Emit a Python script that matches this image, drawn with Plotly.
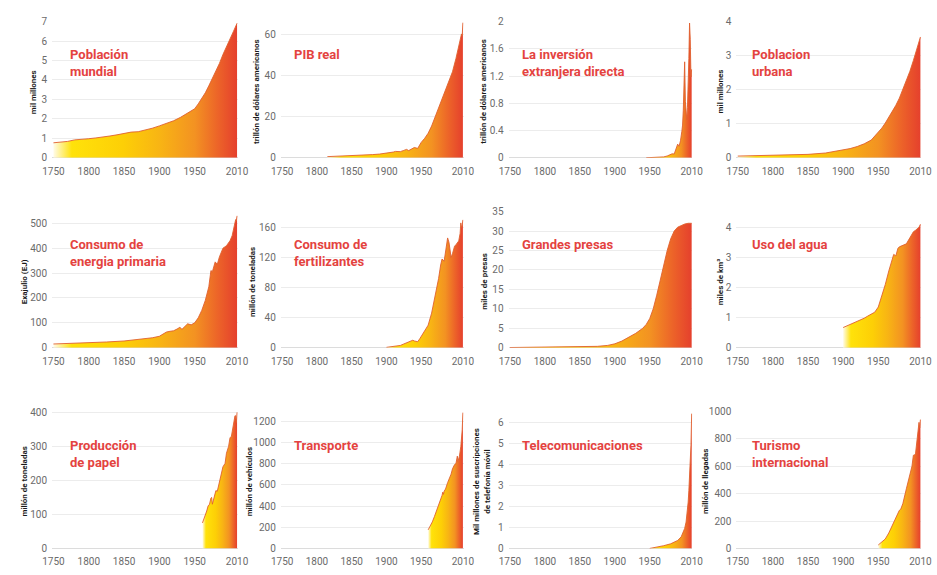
import plotly.graph_objects as go

W, H = 937, 575

# ---------------- data ----------------
x_tick_years = [1750, 1800, 1850, 1900, 1950, 2010]

pop_years = [1750, 1760, 1770, 1780, 1790, 1800, 1810, 1820, 1830, 1840, 1850, 1860, 1870,
             1880, 1890, 1900, 1910, 1920, 1930, 1940, 1950, 1955, 1960, 1965, 1970, 1975,
             1980, 1985, 1990, 1995, 2000, 2005, 2010]
pop_vals = [0.77, 0.80, 0.84, 0.92, 0.94, 0.98, 1.02, 1.06, 1.12, 1.18, 1.26, 1.32, 1.34,
            1.42, 1.52, 1.64, 1.76, 1.90, 2.08, 2.30, 2.52, 2.77, 3.03, 3.34, 3.70, 4.07,
            4.45, 4.85, 5.31, 5.74, 6.13, 6.51, 6.92]

gdp_years = [1815, 1820, 1830, 1840, 1850, 1860, 1870, 1880, 1890, 1900, 1910, 1913, 1920,
             1925, 1929, 1932, 1935, 1940, 1945, 1950, 1955, 1960, 1965, 1970, 1975, 1980,
             1985, 1990, 1995, 2000, 2005, 2008, 2009, 2010]
gdp_vals = [0.55, 0.6, 0.7, 0.8, 0.95, 1.1, 1.3, 1.55, 1.8, 2.2, 2.8, 3.1, 3.0,
            3.6, 4.1, 3.5, 4.2, 5.0, 4.6, 7.5, 9.5, 12, 15.5, 20, 24, 28.5,
            32.5, 37.5, 42, 48.5, 55.5, 60.5, 59.5, 66]

fdi_years = [1945, 1950, 1955, 1960, 1965, 1970, 1975, 1980, 1982, 1985, 1988, 1990, 1992,
             1994, 1996, 1997, 1998, 1999, 2000, 2001, 2002, 2003, 2004, 2005, 2006, 2007,
             2008, 2009, 2010]
fdi_vals = [0, 0.002, 0.004, 0.006, 0.01, 0.013, 0.026, 0.05, 0.058, 0.055, 0.16, 0.2, 0.17,
            0.25, 0.39, 0.48, 0.69, 1.08, 1.41, 0.83, 0.62, 0.56, 0.74, 0.99, 1.46, 1.98,
            1.74, 1.19, 1.3]

urb_years = [1750, 1775, 1800, 1825, 1850, 1875, 1900, 1910, 1920, 1930, 1940, 1950, 1955,
             1960, 1965, 1970, 1975, 1980, 1985, 1990, 1995, 2000, 2005, 2010]
urb_vals = [0.05, 0.06, 0.07, 0.08, 0.1, 0.14, 0.22, 0.27, 0.33, 0.41, 0.52, 0.74, 0.87,
            1.02, 1.18, 1.35, 1.54, 1.75, 2.0, 2.26, 2.54, 2.86, 3.18, 3.55]

ene_years = [1750, 1775, 1800, 1825, 1850, 1870, 1890, 1900, 1905, 1910, 1915, 1920, 1925,
             1929, 1932, 1937, 1940, 1945, 1950, 1955, 1960, 1965, 1970, 1973, 1975, 1979,
             1982, 1985, 1990, 1995, 2000, 2003, 2005, 2008, 2009, 2010]
ene_vals = [15, 17, 20, 23, 27, 33, 40, 46, 55, 63, 66, 68, 75,
            82, 74, 90, 96, 92, 100, 120, 150, 190, 245, 310, 305, 345,
            335, 365, 400, 410, 430, 450, 480, 515, 510, 530]

fer_years = [1900, 1905, 1910, 1915, 1920, 1925, 1930, 1935, 1938, 1940, 1945, 1948, 1950,
             1955, 1960, 1965, 1970, 1973, 1975, 1978, 1980, 1983, 1985, 1988, 1990, 1991,
             1993, 1995, 1998, 2000, 2002, 2004, 2006, 2007, 2008, 2009, 2010]
fer_vals = [0.5, 1, 2, 2, 3, 5, 7, 8, 10, 9, 8, 12, 15,
            21, 30, 46, 68, 85, 92, 110, 118, 115, 128, 146, 140, 130,
            120, 125, 135, 137, 140, 142, 152, 166, 160, 163, 170]

dam_years = [1750, 1800, 1850, 1875, 1890, 1900, 1910, 1920, 1930, 1940, 1945, 1950, 1955,
             1960, 1965, 1970, 1975, 1980, 1985, 1990, 1995, 2000, 2005, 2010]
dam_vals = [0.05, 0.1, 0.2, 0.35, 0.6, 1.0, 1.7, 2.6, 3.7, 5.0, 6.0, 7.5, 10,
            13.5, 17.5, 21.5, 25, 28, 30, 31, 31.5, 31.8, 32, 32]

wat_years = [1900, 1905, 1910, 1915, 1920, 1925, 1930, 1935, 1940, 1945, 1950, 1955, 1960,
             1965, 1968, 1970, 1972, 1975, 1978, 1980, 1985, 1990, 1995, 1998, 2000, 2003,
             2005, 2008, 2010]
wat_vals = [0.67, 0.72, 0.78, 0.83, 0.88, 0.93, 0.98, 1.05, 1.12, 1.18, 1.35, 1.7, 2.1,
            2.55, 2.8, 3.0, 3.1, 3.05, 3.3, 3.35, 3.4, 3.45, 3.65, 3.8, 3.85, 3.9,
            3.95, 4.0, 4.1]

pap_years = [1961, 1963, 1965, 1967, 1969, 1971, 1973, 1974, 1975, 1977, 1979, 1980, 1982,
             1985, 1988, 1990, 1993, 1995, 1998, 2000, 2002, 2004, 2006, 2007, 2008, 2009,
             2010]
pap_vals = [75, 85, 100, 110, 125, 130, 148, 150, 130, 145, 165, 170, 168,
            195, 225, 240, 250, 280, 300, 325, 330, 355, 380, 390, 390, 370,
            400]

veh_years = [1960, 1963, 1966, 1969, 1972, 1975, 1978, 1980, 1981, 1982, 1983, 1985, 1988,
             1990, 1993, 1995, 1998, 2000, 2001, 2002, 2003, 2005, 2007, 2008, 2009, 2010]
veh_vals = [175, 210, 250, 300, 350, 400, 450, 500, 530, 510, 540, 560, 620,
            650, 700, 750, 790, 800, 830, 870, 820, 870, 960, 1020, 1120, 1280]

tel_years = [1950, 1960, 1970, 1980, 1990, 1995, 2000, 2002, 2004, 2005, 2006, 2007, 2008,
             2009, 2010]
tel_vals = [0.0, 0.06, 0.13, 0.22, 0.38, 0.55, 0.95, 1.25, 1.75, 2.2, 2.75, 3.4, 4.1,
            4.9, 6.4]

tur_years = [1950, 1955, 1960, 1965, 1970, 1975, 1980, 1982, 1985, 1990, 1993, 1995, 1998,
             2000, 2001, 2003, 2005, 2007, 2008, 2009, 2010]
tur_vals = [25, 46, 69, 113, 166, 222, 278, 286, 327, 435, 500, 528, 600,
            680, 680, 690, 800, 905, 920, 880, 940]

# ---------------- panel definitions ----------------
# (title, y-axis title, years, values, y max, tick step)
panels = [
    ("Población<br>mundial", "mil millones", pop_years, pop_vals, 7, 1),
    ("PIB real", "trillón de dólares americanos", gdp_years, gdp_vals, 66.5, 20),
    ("La inversión<br>extranjera directa", "trillón de dólares americanos", fdi_years, fdi_vals, 2, 0.4),
    ("Poblacion<br>urbana", "mil millones", urb_years, urb_vals, 4, 1),
    ("Consumo de<br>energia primaria", "Exajulio (EJ)", ene_years, ene_vals, 547, 100),
    ("Consumo de<br>fertilizantes", "millón de toneladas", fer_years, fer_vals, 181, 40),
    ("Grandes presas", "miles de presas", dam_years, dam_vals, 35, 5),
    ("Uso del agua", "miles de km³", wat_years, wat_vals, 4.52, 1),
    ("Producción<br>de papel", "millón de toneladas", pap_years, pap_vals, 403, 100),
    ("Transporte", "millón de vehículos", veh_years, veh_vals, 1292, 200),
    ("Telecomunicaciones", "Mil millones de suscripciones<br>de telefonía móvil", tel_years, tel_vals, 6.51, 1),
    ("Turismo<br>internacional", "millón de llegadas", tur_years, tur_vals, 1000, 200),
]

# plot-area pixel boxes
rows_px = [(16, 155), (210, 349), (414, 554)]
cols_px = [(43, 233), (277, 464), (510, 698), (743, 932)]
title_x = [59, 288, 522, 757]
title_top = [40, 234, 439]
ytitle_x = [[24, 252, 485, 727], [15, 248, 485, 727], [15, 245, 483, 712]]

gradient = [[0.0, "#FFFBE8"], [0.1, "#FFE20A"], [0.38, "#FDCF06"],
            [0.58, "#F8B414"], [0.77, "#F39222"], [0.9, "#EC6229"], [1.0, "#E5402D"]]

RED = "#E4433F"
TICK_FONT = dict(family="Roboto, Arial, sans-serif", size=10, color="#6b6b6b")
GRID = "#ececec"

fig = go.Figure()
layout = dict(
    width=W, height=H,
    margin=dict(l=0, r=0, t=0, b=0),
    paper_bgcolor="white", plot_bgcolor="white",
    showlegend=False,
    annotations=[],
)


def px_x(p):
    return p / W


def px_y(p):
    return 1 - p / H


for i, (title, ytitle, years, vals, ymax, step) in enumerate(panels):
    r, c = divmod(i, 4)
    n = i + 1
    xa = "x" if n == 1 else f"x{n}"
    ya = "y" if n == 1 else f"y{n}"
    x0, x1 = cols_px[c]
    ytop, ybot = rows_px[r]

    fig.add_trace(go.Scatter(
        x=years, y=vals, xaxis=xa, yaxis=ya,
        mode="lines", fill="tozeroy",
        line=dict(color="#E0602F", width=0.9),
        fillgradient=dict(type="horizontal", colorscale=gradient),
        hoverinfo="skip",
    ))

    n_ticks = int(round(ymax / step + 1e-9))
    tickvals = [round(k * step, 6) for k in range(n_ticks + 1) if k * step <= ymax + 1e-9]
    ticktext = [("%g" % v) for v in tickvals]

    layout["xaxis" if n == 1 else f"xaxis{n}"] = dict(
        domain=[px_x(x0), px_x(x1)], anchor=ya,
        range=[1748, 2011], tickvals=x_tick_years,
        showgrid=False, zeroline=False, showline=False, ticks="",
        ticklabelstandoff=6,
        tickfont=TICK_FONT, fixedrange=True,
    )
    layout["yaxis" if n == 1 else f"yaxis{n}"] = dict(
        domain=[px_y(ybot), px_y(ytop)], anchor=xa,
        range=[0, ymax], tickvals=tickvals, ticktext=ticktext,
        showgrid=True, gridcolor=GRID, gridwidth=1,
        zeroline=True, zerolinecolor="#dcdcdc", zerolinewidth=1,
        showline=False, ticks="", ticklabelstandoff=4,
        tickfont=TICK_FONT, fixedrange=True,
    )

    # panel title
    layout["annotations"].append(dict(
        xref="paper", yref="paper",
        x=px_x(title_x[c]), y=px_y(title_top[r]),
        xanchor="left", yanchor="top", align="left",
        text=f"<b>{title}</b>", showarrow=False,
        font=dict(family="Roboto, Arial, sans-serif", size=13, color=RED),
    ))
    # rotated unit label
    layout["annotations"].append(dict(
        xref="paper", yref="paper",
        x=px_x(ytitle_x[r][c]), y=px_y((ytop + ybot) / 2 + 2),
        xanchor="center", yanchor="middle", textangle=-90,
        text=f"<b>{ytitle}</b>", showarrow=False,
        font=dict(family="Roboto, Arial, sans-serif", size=8, color="#1a1a1a"),
    ))

fig.update_layout(**layout)
fig.write_html("out.html")
